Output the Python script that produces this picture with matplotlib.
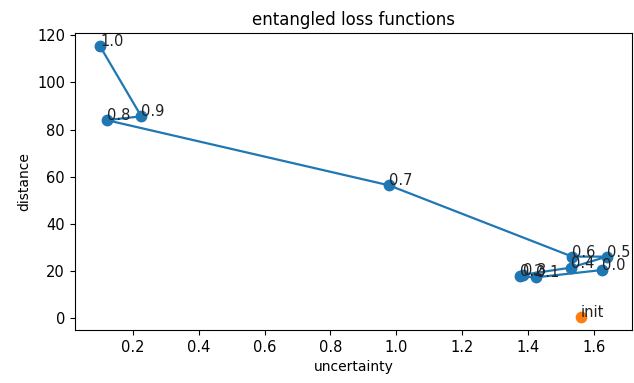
import matplotlib
matplotlib.use("Agg")
import matplotlib.pyplot as plt

# weights 0.0 .. 1.0, points in order
labels = ['0.0', '0.1', '0.2', '0.3', '0.4', '0.5', '0.6', '0.7', '0.8', '0.9', '1.0']
uncertainty = [1.625, 1.425, 1.375, 1.385, 1.53, 1.64, 1.535, 0.978, 0.12, 0.225, 0.10]
distance = [20.3, 17.2, 17.6, 18.3, 21.3, 26.0, 26.0, 56.3, 84.0, 85.6, 115.3]

init_u = [1.562]
init_d = [0.5]

fig = plt.figure(figsize=(6.34, 3.83), dpi=100)
ax = fig.add_subplot(111)
fig.subplots_adjust(left=0.118, right=0.997, bottom=0.138, top=0.914)

ax.plot(uncertainty, distance, '-o', color='#1f77b4', markersize=7.5, linewidth=1.6)
for u, d, l in zip(uncertainty, distance, labels):
    ax.annotate(l, (u, d), fontsize=10.5, color='#222222')

ax.scatter(init_u, init_d, color='#ff7f0e', s=55, zorder=3)
ax.annotate('init', (init_u[0], init_d[0]), fontsize=10.5, color='#222222')

ax.set_title('entangled loss functions', fontsize=12)
ax.set_xlabel('uncertainty', fontsize=10)
ax.set_ylabel('distance', fontsize=10)
ax.tick_params(labelsize=10.5)

fig.savefig('out.png', dpi=100)
